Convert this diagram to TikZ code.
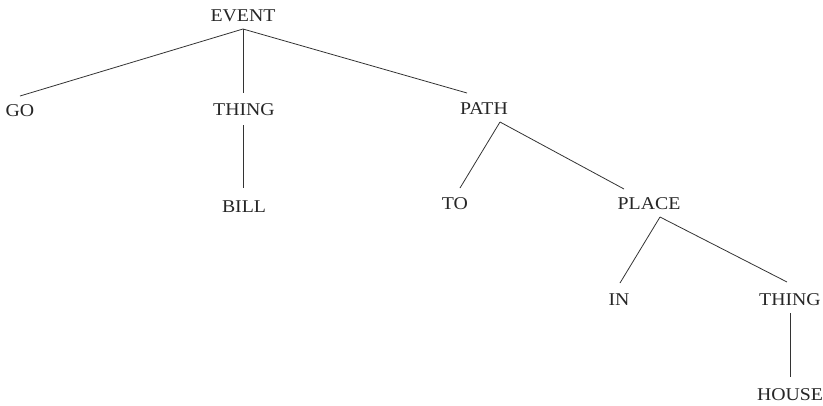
\documentclass[tikz,border=0pt]{standalone}
\usepackage{fontspec}
\setmainfont{Liberation Serif}[FakeStretch=1.1]
\begin{document}
\begin{tikzpicture}[x=1pt,y=-1pt,
  lbl/.style={anchor=base,inner sep=0pt,font=\fontsize{18}{21}\selectfont,text=black!85},
  edge/.style={draw=black!80,line width=0.8pt}]
\useasboundingbox (0,0) rectangle (823,405);
% labels
\node[lbl] (event) at (243,21) {EVENT};
\node[lbl] (go) at (20,116) {GO};
\node[lbl] (thingA) at (244,115) {THING};
\node[lbl] (bill) at (244,212) {BILL};
\node[lbl] (path) at (484,114) {PATH};
\node[lbl] (to) at (455,209) {TO};
\node[lbl] (place) at (649,209) {PLACE};
\node[lbl] (in) at (619,305) {IN};
\node[lbl] (thingB) at (790,305) {THING};
\node[lbl] (house) at (790,400) {HOUSE};
% connector ends
\coordinate (eventB) at (243,29);
\coordinate (goT) at (20,96);
\coordinate (thingAT) at (243,93);
\coordinate (thingAB) at (243,125);
\coordinate (billT) at (243,188);
\coordinate (pathT) at (467,93);
\coordinate (pathB) at (500,122);
\coordinate (toT) at (460,188);
\coordinate (placeT) at (624,189);
\coordinate (placeB) at (660,217);
\coordinate (inT) at (620,283);
\coordinate (thingBT) at (787,282);
\coordinate (thingBB) at (790,313);
\coordinate (houseT) at (790,377);
% connectors
\draw[edge] (eventB) -- (goT);
\draw[edge] (eventB) -- (thingAT);
\draw[edge] (eventB) -- (pathT);
\draw[edge] (thingAB) -- (billT);
\draw[edge] (pathB) -- (toT);
\draw[edge] (pathB) -- (placeT);
\draw[edge] (placeB) -- (inT);
\draw[edge] (placeB) -- (thingBT);
\draw[edge] (thingBB) -- (houseT);
\end{tikzpicture}
\end{document}
